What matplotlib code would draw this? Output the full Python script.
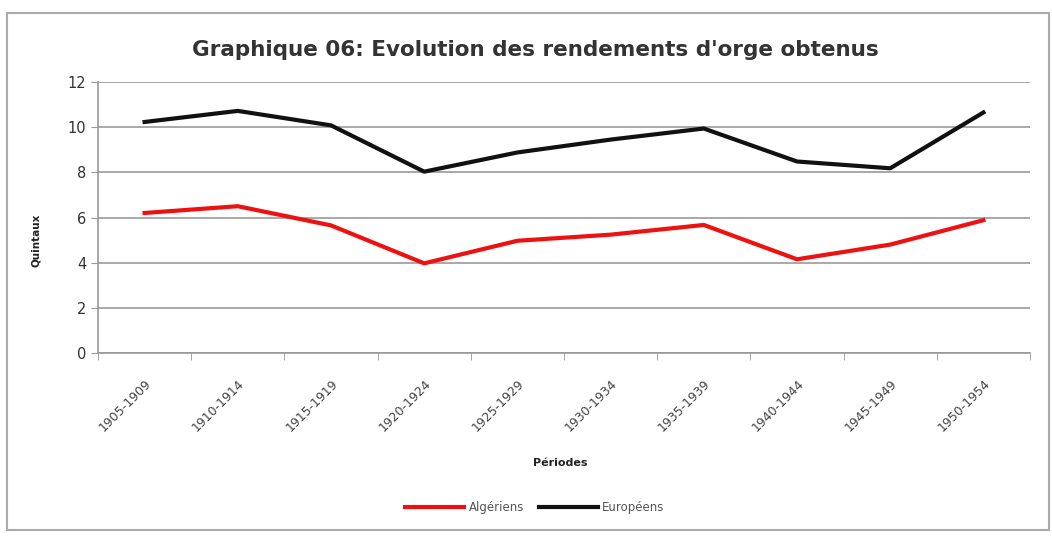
import matplotlib
matplotlib.use("Agg")
import matplotlib.pyplot as plt
import matplotlib.transforms as mtransforms
from matplotlib.patches import Rectangle

periods = ["1905-1909", "1910-1914", "1915-1919", "1920-1924", "1925-1929",
           "1930-1934", "1935-1939", "1940-1944", "1945-1949", "1950-1954"]
algeriens = [6.2, 6.5, 5.65, 3.97, 4.97, 5.24, 5.67, 4.15, 4.8, 5.88]
europeens = [10.23, 10.72, 10.08, 8.03, 8.88, 9.45, 9.94, 8.48, 8.18, 10.65]
yticks = [0, 2, 4, 6, 8, 10, 12]

plt.rcParams['font.family'] = ['DejaVu Sans']
fig = plt.figure(figsize=(10.52, 5.36), dpi=100)
ax = fig.add_axes([98/1052, 1-353/536, (1030-98)/1052, (353-82)/536])

x = list(range(len(periods)))
ax.plot(x, algeriens, color='#ee1111', lw=3.0, label='Algériens')
ax.plot(x, europeens, color='#111111', lw=3.0, label='Européens')

ax.set_xlim(-0.5, len(periods)-0.5)
ax.set_ylim(0, 12)
ax.set_yticks(yticks)
ax.set_yticklabels([str(v) for v in yticks], fontsize=10.5, color='#333333')
ax.set_xticks(x)
ax.set_xticklabels(periods, rotation=45, ha='right', rotation_mode='anchor', fontsize=9, color='#444444')
offset = mtransforms.ScaledTranslation(10/100, 0, fig.dpi_scale_trans)
for lab in ax.get_xticklabels():
    lab.set_transform(lab.get_transform() + offset)
ax.set_xticks([i + 0.5 for i in range(-1, len(periods))], minor=True)
ax.tick_params(axis='x', which='major', length=0, pad=17)
ax.tick_params(axis='x', which='minor', length=5, color='#999999')
ax.tick_params(axis='y', length=5, color='#999999')
ax.grid(axis='y', color='#999999', lw=1.2)
ax.set_axisbelow(True)
for s in ['top', 'right']:
    ax.spines[s].set_visible(False)
for s in ['left', 'bottom']:
    ax.spines[s].set_color('#999999')
    ax.spines[s].set_linewidth(1.2)

fig.text(36/1052, 1-240/536, 'Quintaux', fontsize=7.5, fontweight='bold', rotation=90,
         ha='center', va='center', color='#222222')
fig.text(560/1052, 1-463/536, 'Périodes', fontsize=8, fontweight='bold', ha='center', va='center',
         color='#222222')
fig.text(535/1052, 1-50/536, "Graphique 06: Evolution des rendements d'orge obtenus",
         fontsize=15.5, fontweight='bold', ha='center', va='center', color='#333333')

fig.legend(loc='center', bbox_to_anchor=(535/1052, 1-508/536), ncol=2, frameon=False,
           fontsize=8.5, handlelength=5, columnspacing=1.2, handletextpad=0.4, labelcolor='#555555')

fig.patches.append(Rectangle((7/1052, 6/536), 1042/1052, 517/536, transform=fig.transFigure,
                             fill=False, edgecolor='#aaaaaa', lw=1.5))

fig.savefig('out.png', dpi=100)
